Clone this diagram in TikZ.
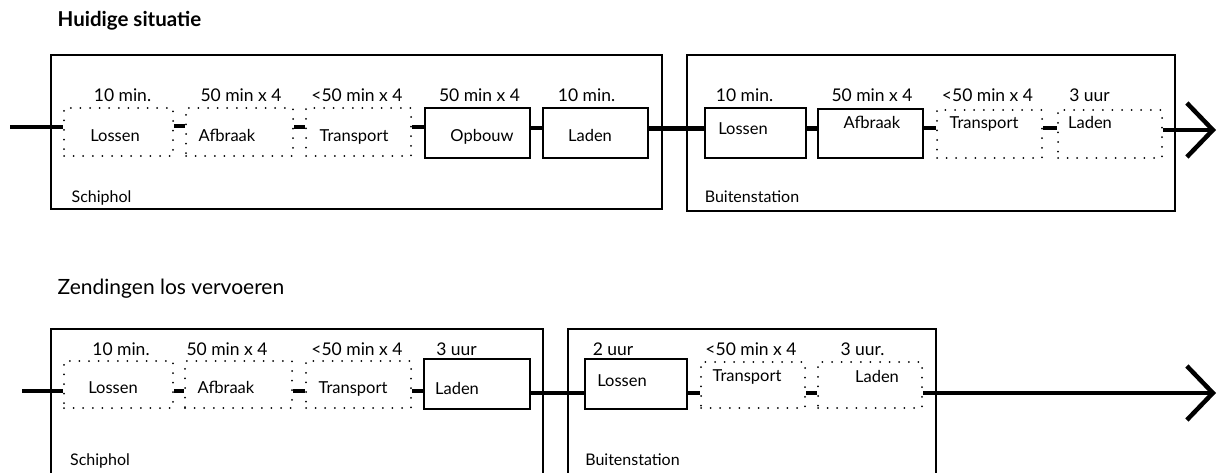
\documentclass[tikz,border=0pt]{standalone}
\usepackage{fontspec}
\setmainfont{Lato}
\usetikzlibrary{arrows.meta}
\begin{document}
\begin{tikzpicture}[x=1pt,y=-1pt,
  area/.style={draw,line width=1.6pt,inner sep=0pt,anchor=north west},
  solidbox/.style={draw,line width=1.6pt,inner sep=0pt,anchor=north west},
  dotbox/.style={draw,line width=2pt,dash pattern=on 0pt off 9.6pt,line cap=round,inner sep=0pt,anchor=north west},
  link/.style={line width=4.5pt},
  flow/.style={line width=4.5pt,-{Straight Barb[length=26pt,width=54pt,line width=4.5pt]}},
  dur/.style={font=\fontsize{17.5}{20}\selectfont,anchor=base,inner sep=0pt},
  act/.style={font=\fontsize{16.5}{19}\selectfont,anchor=base,inner sep=0pt},
  place/.style={font=\fontsize{16}{19}\selectfont,anchor=base,inner sep=0pt},
  heading/.style={font=\fontsize{21}{24}\selectfont,anchor=base,inner sep=0pt}]
\useasboundingbox[fill=white] (0,0) rectangle (1220,473);

% ---------------- Huidige situatie ----------------
\node[heading,font=\fontsize{20.5}{24}\selectfont\bfseries] (t1) at (129.5,27) {Huidige situatie};

\node[area,minimum width=611pt,minimum height=154pt] (sch1) at (50,54) {};
\node[area,minimum width=488pt,minimum height=156pt] (bui1) at (686,54) {};
\node[place] (sch1t) at (101.5,203) {Schiphol};
\node[place] (bui1t) at (752,202) {Buitenstation};

% Schiphol steps
\node[dotbox,minimum width=109pt,minimum height=48pt] (a1) at (63,107) {};
\node[dotbox,minimum width=107pt,minimum height=48pt] (a2) at (185,107) {};
\node[dotbox,minimum width=105pt,minimum height=48pt] (a3) at (305,107) {};
\node[solidbox,minimum width=105pt,minimum height=50pt] (a4) at (424,107) {};
\node[solidbox,minimum width=105pt,minimum height=50pt] (a5) at (542,107) {};
% Buitenstation steps
\node[solidbox,minimum width=101pt,minimum height=50pt] (b1) at (704,107) {};
\node[solidbox,minimum width=105pt,minimum height=49pt] (b2) at (817,108) {};
\node[dotbox,minimum width=105pt,minimum height=48pt] (b3) at (936,109) {};
\node[dotbox,minimum width=104pt,minimum height=48pt] (b4) at (1057,109) {};

\node[act] (a1t) at (115,142) {Lossen};
\node[act] (a2t) at (227,142) {Afbraak};
\node[act] (a3t) at (354,142) {Transport};
\node[act] (a4t) at (482,142) {Opbouw};
\node[act] (a5t) at (590,142) {Laden};
\node[act] (b1t) at (743,135) {Lossen};
\node[act] (b2t) at (872,129) {Afbraak};
\node[act] (b3t) at (984,129) {Transport};
\node[act] (b4t) at (1090,129) {Laden};

\node[dur] (a1d) at (122.5,102) {10 min.};
\node[dur] (a2d) at (241,102) {50 min x 4};
\node[dur] (a3d) at (357,102) {<50 min x 4};
\node[dur] (a4d) at (479.5,102) {50 min x 4};
\node[dur] (a5d) at (586.5,102) {10 min.};
\node[dur] (b1d) at (744.5,102) {10 min.};
\node[dur] (b2d) at (872,102) {50 min x 4};
\node[dur] (b3d) at (987.5,102) {<50 min x 4};
\node[dur] (b4d) at (1089.5,102) {3 uur};

% rail heights of the upper chain
\coordinate (in1) at (10,127);
\coordinate (r11) at (0,126);
\coordinate (r12) at (0,127);
\coordinate (r13) at (0,128.5);
\coordinate (r14) at (0,128);
\coordinate (out1) at (1216,130);
\draw[link] (in1) -- (in1 -| a1.west);
\draw[link] (a1.east |- r11) -- (a2.west |- r11);
\draw[link] (a2.east |- r12) -- (a3.west |- r12);
\draw[link] (a3.east |- r12) -- (a4.west |- r12);
\draw[link] (a4.east |- r14) -- (a5.west |- r14);
\draw[link] (a5.east |- r13) -- (b1.west |- r13);
\draw[link] (b1.east |- r13) -- (b2.west |- r13);
\draw[link] (b2.east |- r14) -- (b3.west |- r14);
\draw[link] (b3.east |- r14) -- (b4.west |- r14);
\draw[flow] (b4.east |- out1) -- (out1);

% ---------------- Zendingen los vervoeren ----------------
\node[heading] (t2) at (171,294) {Zendingen los vervoeren};

\node[area,minimum width=492pt,minimum height=145pt] (sch2) at (50,328) {};
\node[area,minimum width=368pt,minimum height=145pt] (bui2) at (567,328) {};
\node[place] (sch2t) at (100,465) {Schiphol};
\node[place] (bui2t) at (632.5,465) {Buitenstation};

\node[dotbox,minimum width=109pt,minimum height=47pt] (c1) at (63,360) {};
\node[dotbox,minimum width=107pt,minimum height=47pt] (c2) at (184,360) {};
\node[dotbox,minimum width=105pt,minimum height=47pt] (c3) at (305,360) {};
\node[solidbox,minimum width=106pt,minimum height=50pt] (c4) at (423,358) {};
\node[solidbox,minimum width=102pt,minimum height=50pt] (d1) at (584,358) {};
\node[dotbox,minimum width=104pt,minimum height=46pt] (d2) at (700,361) {};
\node[dotbox,minimum width=104pt,minimum height=46pt] (d3) at (817,361) {};

\node[act] (c1t) at (113,393) {Lossen};
\node[act] (c2t) at (226,393) {Afbraak};
\node[act] (c3t) at (353,393) {Transport};
\node[act] (c4t) at (457,394) {Laden};
\node[act] (d1t) at (622,386) {Lossen};
\node[act] (d2t) at (747,381) {Transport};
\node[act] (d3t) at (877,382) {Laden};

\node[dur] (c1d) at (121,355) {10 min.};
\node[dur] (c2d) at (227,355) {50 min x 4};
\node[dur] (c3d) at (357,355) {<50 min x 4};
\node[dur] (c4d) at (456.5,355) {3 uur};
\node[dur] (d1d) at (613,355) {2 uur};
\node[dur] (d2d) at (751,355) {<50 min x 4};
\node[dur] (d3d) at (862.5,355) {3 uur.};

% rail heights of the lower chain
\coordinate (in2) at (22,391);
\coordinate (r21) at (0,391);
\coordinate (r22) at (0,393);
\coordinate (out2) at (1216,393);
\draw[link] (in2) -- (in2 -| c1.west);
\draw[link] (c1.east |- r21) -- (c2.west |- r21);
\draw[link] (c2.east |- r21) -- (c3.west |- r21);
\draw[link] (c3.east |- r21) -- (c4.west |- r21);
\draw[link] (c4.east |- r22) -- (d1.west |- r22);
\draw[link] (d1.east |- r22) -- (d2.west |- r22);
\draw[link] (d2.east |- r22) -- (d3.west |- r22);
\draw[flow] (d3.east |- out2) -- (out2);
\end{tikzpicture}
\end{document}
